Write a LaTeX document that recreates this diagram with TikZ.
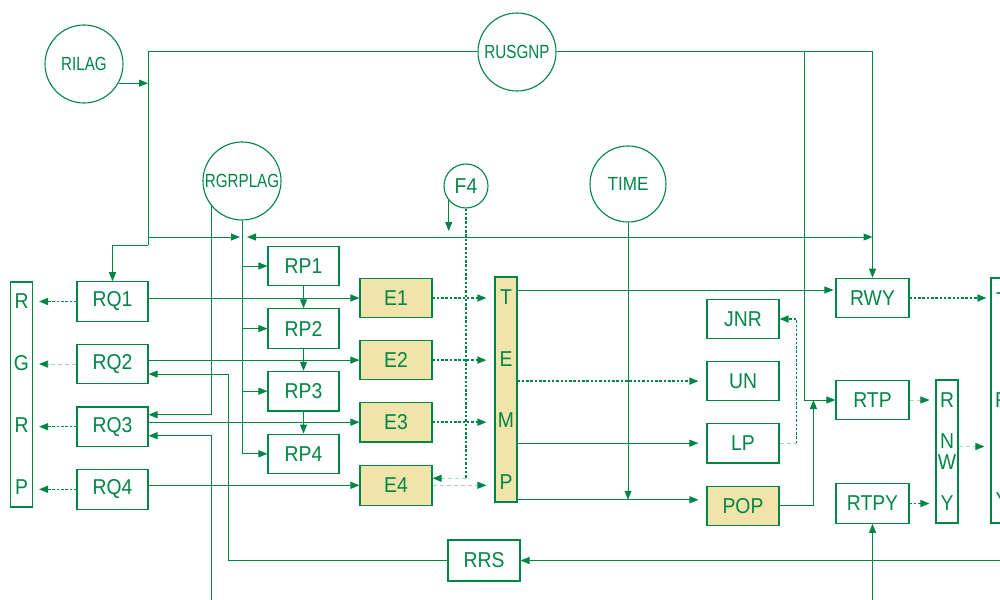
\documentclass[tikz,border=0pt]{standalone}
\usepackage{fontspec}
\setmainfont{Liberation Sans}[FakeStretch=0.9]
\newfontfamily\circfont{Liberation Sans}[FakeStretch=0.8]
\usetikzlibrary{positioning,arrows.meta}
\definecolor{cvgreen}{RGB}{0,133,70}
\definecolor{cvsand}{RGB}{240,228,171}

\begin{document}
\begin{tikzpicture}[
  x=1pt, y=-1pt,
  font=\fontsize{21.5}{24}\selectfont,
  every node/.style={text=cvgreen},
  >={Triangle[length=9pt,width=7pt,color=cvgreen]},
  blk/.style={draw=cvgreen, line width=1.1pt, minimum width=71pt,
              minimum height=39.5pt, inner sep=0pt},
  eblk/.style={blk, fill=cvsand},
  tall/.style={draw=cvgreen, line width=1.1pt, minimum width=22pt,
               inner sep=0pt, align=center},
  var/.style={circle, draw=cvgreen, line width=1.1pt, minimum size=78pt,
              inner sep=0pt, font=\circfont\fontsize{19}{21}\selectfont},
  link/.style={cvgreen, line width=1pt},
  flow/.style={->, cvgreen, line width=1pt},
  dots/.style={->, cvgreen, line width=1.5pt, dash pattern=on 2.5pt off 1.8pt},
  faint/.style={->, cvgreen!35, line width=0.8pt, dash pattern=on 4pt off 3pt},
]
  \useasboundingbox (0,0) rectangle (1000,599);
  \clip (0,0) rectangle (1000,599);

  % circles
  \node[var] (rilag) at (84,64) {RILAG};
  \node[var] (rusgnp) at (517,52) {RUSGNP};
  \node[var] (rgrplag) at (242,181) {RGRPLAG};
  \node[var, minimum size=44pt, font=\fontsize{21.5}{24}\selectfont] (f4) at (466,186) {F4};
  \node[var, minimum size=76pt, font=\fontsize{19}{21}\selectfont] (time) at (628,184) {TIME};

  % left column
  \node[tall, minimum height=225pt, font=\fontsize{21.5}{62}\selectfont]
    (rgrp) at (21.5,394.5) {R\\G\\R\\P};
  \node[blk] (rq1) at (112.5,301.5) {RQ1};
  \node[blk, below=22pt of rq1] (rq2) {RQ2};
  \node[blk, below=22pt of rq2] (rq3) {RQ3};
  \node[blk, below=22pt of rq3] (rq4) {RQ4};

  \node[blk] (rp1) at (303.5,266) {RP1};
  \node[blk, below=22pt of rp1] (rp2) {RP2};
  \node[blk, below=22pt of rp2] (rp3) {RP3};
  \node[blk, below=22pt of rp3] (rp4) {RP4};

  \node[eblk, minimum width=72pt] (e1) at (396,298) {E1};
  \node[eblk, minimum width=72pt, below=21.5pt of e1] (e2) {E2};
  \node[eblk, minimum width=72pt, below=21.5pt of e2] (e3) {E3};
  \node[eblk, minimum width=72pt, below=22.5pt of e3] (e4) {E4};

  \node[tall, fill=cvsand, minimum height=225pt, font=\fontsize{21.5}{61.7}\selectfont]
    (temp) at (506,389.5) {T\\E\\M\\P};
  \node[blk, minimum width=72pt, minimum height=41pt] (rrs) at (484,560.5) {RRS};

  % right part
  \node[blk, minimum width=72pt] (jnr) at (743,319) {JNR};
  \node[blk, minimum width=72pt, below=21.5pt of jnr] (un) {UN};
  \node[blk, minimum width=72pt, below=21.5pt of un] (lp) {LP};
  \node[eblk, minimum width=72pt, below=22pt of lp] (pop) {POP};

  \node[blk, minimum width=73pt] (rwy) at (872.5,298) {RWY};
  \node[blk, minimum width=73pt] (rtp) at (872.5,400) {RTP};
  \node[blk, minimum width=73pt] (rtpy) at (872.5,503.5) {RTPY};
  \node[tall, minimum height=143pt, font=\fontsize{21.5}{21}\selectfont]
    (rnwy) at (947,451.5) {R\\[20pt]N\\W\\[20pt]Y};
  \node[tall, minimum height=245pt, font=\fontsize{21.5}{100}\selectfont]
    (rout) at (1002,400.5) {T\\R\\Y};

  % helper points
  \coordinate (nw) at (148,52);
  \coordinate (sw) at (148,245);
  \coordinate (tap) at (804,52);
  \coordinate (jn) at (243,237);
  \coordinate (inq) at (211,605);
  \coordinate (rrsbend) at (228,0);
  \coordinate (rrsin) at (1010,0);
  \coordinate (rtpyin) at (875,605);
  \coordinate (q2in) at ([yshift=-10pt]rq2.east);
  \coordinate (q3up) at ([yshift=12pt]rq3.east);
  \coordinate (q3lo) at ([yshift=-9pt]rq3.east);
  \coordinate (f4bend) at ([yshift=7pt]e4.east -| f4.south);
  \coordinate (rwyin) at ([yshift=8pt]rwy.west);
  \coordinate (popin) at ([yshift=6pt]pop.west);
  \coordinate (rtpin) at ([xshift=-22pt]rtp.west);
  \coordinate (jbend) at ([xshift=17pt]lp.east);

  % upper bus
  \draw[link] (rusgnp.west) -- (nw) -- (sw);
  \draw[flow] (sw) -| (rq1.north);
  \draw[flow] (rilag.-29) -- (rilag.-29 -| nw);
  \draw[flow] (rusgnp.east) -| (rwy.north);
  \draw[flow] (tap) |- (rtp.west);
  \draw[flow, shorten >=3pt] (nw |- jn) -- (jn);
  \draw[<->, link, shorten <=4pt] (jn) -- (jn -| rwy.north);
  \draw[flow, shorten >=6pt] (f4.-140) -- (f4.-140 |- jn);

  % lag feeds
  \draw[flow] (rgrplag.south) |- (rp4.west);
  \draw[flow] (rgrplag.south |- rp1) -- (rp1.west);
  \draw[flow] (rgrplag.south |- rp2) -- (rp2.west);
  \draw[flow] (rgrplag.south |- rp3) -- (rp3.west);
  \draw[flow] (rgrplag.-140) |- (q3up);
  \draw[flow] (inq) |- (q3lo);
  \draw[flow] (rrs.west) -| (q2in -| rrsbend) -- (q2in);
  \draw[flow] (rrs.east -| rrsin) -- (rrs.east);
  \draw[flow] (rtpy.south |- rtpyin) -- (rtpy.south);

  \draw[flow] (rp1) -- (rp2);
  \draw[flow] (rp2) -- (rp3);
  \draw[flow] (rp3) -- (rp4);

  % RQ to output column
  \draw[dots, shorten >=6pt] (rq1.west) -- (rq1.west -| rgrp.east);
  \draw[faint, shorten >=6pt] (rq2.west) -- (rq2.west -| rgrp.east);
  \draw[dots, shorten >=6pt] (rq3.west) -- (rq3.west -| rgrp.east);
  \draw[dots, shorten >=6pt] (rq4.west) -- (rq4.west -| rgrp.east);

  % RQ to E
  \draw[flow] (rq1.east |- e1) -- (e1.west);
  \draw[flow] (rq2.east |- e2) -- (e2.west);
  \draw[flow] (rq3.east |- e3) -- (e3.west);
  \draw[flow] (rq4.east |- e4) -- (e4.west);

  % E to TEMP
  \draw[dots, shorten >=8pt] (e1.east) -- (e1.east -| temp.west);
  \draw[dots, shorten >=8pt] (e2.east) -- (e2.east -| temp.west);
  \draw[dots, shorten >=8pt] (e3.east) -- (e3.east -| temp.west);
  \draw[faint, shorten >=8pt] (e4.east) -- (e4.east -| temp.west);
  \draw[dots, -] (f4.south) -- (f4bend);
  \draw[faint] (f4bend) -- (f4bend -| e4.east);

  % TEMP outputs
  \draw[flow, shorten >=2pt] (rwyin -| temp.east) -- (rwyin);
  \draw[dots, shorten >=8pt] (un.west -| temp.east) -- (un.west);
  \draw[flow, shorten >=8pt] (lp.west -| temp.east) -- (lp.west);
  \draw[flow, shorten >=8pt] (popin -| temp.east) -- (popin);
  \draw[flow] (time.south) -- (time.south |- popin);
  \draw[flow] (pop.east) -| (rtpin);
  \draw[faint, -] (lp.east) -- (jbend);
  \draw[dots] (jbend) |- (jnr.east);

  % right outputs
  \draw[dots, shorten >=4pt] (rwy.east) -- (rwy.east -| rout.west);
  \draw[faint, shorten >=6pt] (rtp.east) -- (rtp.east -| rnwy.west);
  \draw[dots, shorten >=6pt] (rtpy.east) -- (rtpy.east -| rnwy.west);
  \draw[faint, shorten >=6pt] ([yshift=5pt]rnwy.east) -- ([yshift=5pt]rnwy.east -| rout.west);
\end{tikzpicture}
\end{document}
